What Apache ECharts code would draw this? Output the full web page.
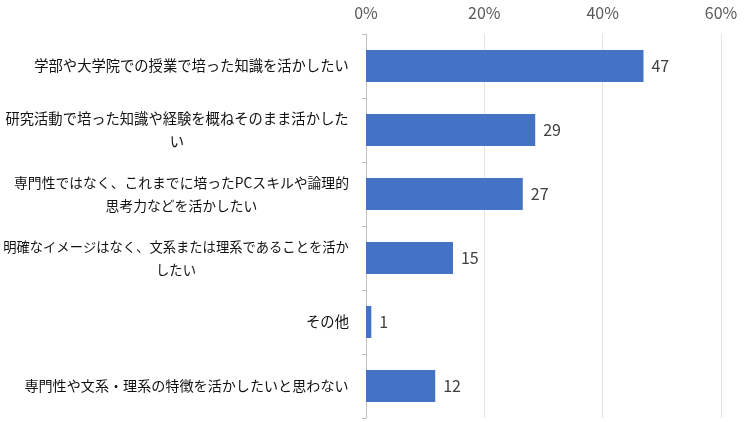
<!DOCTYPE html>
<html>
<head>
<meta charset="utf-8">
<script src="https://cdn.jsdelivr.net/npm/echarts@6/dist/echarts.min.js"></script>
<style>html,body{margin:0;padding:0;background:#fff}#c{width:750px;height:422px}</style>
</head>
<body>
<div id="c"></div>
<script>
// categories (top to bottom), each given as its display lines
const categories = [
  ['学部や大学院での授業で培った知識を活かしたい'],
  ['研究活動で培った知識や経験を概ねそのまま活かした', 'い'],
  ['専門性ではなく、これまでに培ったPCスキルや論理的', '思考力などを活かしたい'],
  ['明確なイメージはなく、文系または理系であることを活か', 'したい'],
  ['その他'],
  ['専門性や文系・理系の特徴を活かしたいと思わない']
];
const values = [46.9, 28.6, 26.5, 14.7, 0.9, 11.7];
const xTicks = [0, 20, 40, 60];

const FONT = '"Noto Sans CJK JP", "Noto Sans", sans-serif';
const CAT_SIZES = [14.3, 14.3, 13.8, 13.3, 14.3, 14.1];

// measure widths so multi-line labels are centred within a right-aligned block
const cv = document.createElement('canvas').getContext('2d');
const rich = {};
categories.forEach((lines, i) => {
  cv.font = CAT_SIZES[i] + 'px ' + FONT;
  const w = Math.max(...lines.map(l => cv.measureText(l).width));
  rich['l' + i] = { width: Math.ceil(w), align: 'center', fontSize: CAT_SIZES[i], fontFamily: FONT, color: '#111111', lineHeight: 23 };
});

const catNames = categories.map((l, i) => 'c' + i);

const chart = echarts.init(document.getElementById('c'));
chart.setOption({
  animation: false,
  grid: { left: 366, right: 29, top: 34, bottom: 4, containLabel: false, outerBoundsMode: 'none' },
  xAxis: {
    type: 'value',
    position: 'top',
    min: xTicks[0],
    max: xTicks[xTicks.length - 1],
    interval: 20,
    axisLine: { show: false },
    axisTick: { show: false },
    splitLine: { show: true, lineStyle: { color: '#e3e3e3', width: 1 } },
    axisLabel: {
      formatter: v => v + '%',
      fontSize: 16,
      color: '#595959',
      fontFamily: FONT,
      margin: 13
    }
  },
  yAxis: {
    type: 'category',
    inverse: true,
    data: catNames,
    axisLine: { show: true, lineStyle: { color: '#bfbfbf', width: 1 } },
    axisTick: { show: true, length: 4, lineStyle: { color: '#bfbfbf' } },
    axisLabel: {
      margin: 17,
      align: 'right',
      formatter: (v, i) => {
        const idx = catNames.indexOf(v);
        return categories[idx].map(l => '{l' + idx + '|' + l + '}').join('\n');
      },
      rich: rich
    }
  },
  series: [{
    type: 'bar',
    data: values,
    barWidth: '50%',
    itemStyle: { color: '#4472C4' },
    label: {
      show: true,
      position: 'right',
      distance: 8,
      formatter: p => Math.round(p.value),
      fontSize: 16,
      color: '#404040',
      fontFamily: FONT
    }
  }]
});
</script>
</body>
</html>
